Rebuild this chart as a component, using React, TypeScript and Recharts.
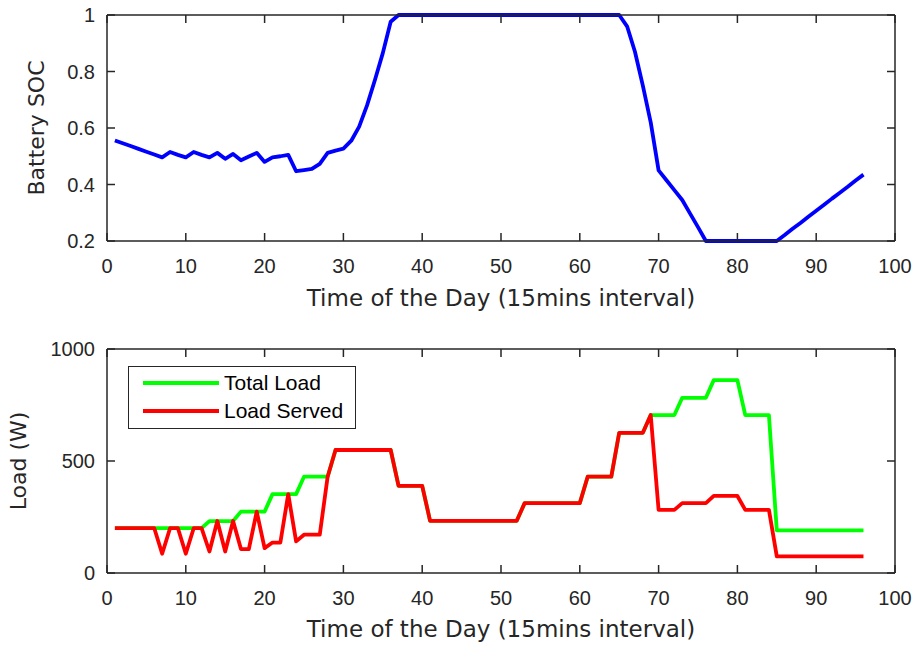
import { LineChart, Line, XAxis, YAxis, Legend } from 'recharts'

// 15-min time slots of the day
const slots = [
  1, 2, 3, 4, 5, 6, 7, 8, 9, 10, 11, 12, 13, 14, 15, 16, 17, 18, 19, 20, 21, 22, 23, 24,
  25, 26, 27, 28, 29, 30, 31, 32, 33, 34, 35, 36, 37, 38, 39, 40, 41, 42, 43, 44, 45, 46, 47, 48,
  49, 50, 51, 52, 53, 54, 55, 56, 57, 58, 59, 60, 61, 62, 63, 64, 65, 66, 67, 68, 69, 70, 71, 72,
  73, 74, 75, 76, 77, 78, 79, 80, 81, 82, 83, 84, 85, 86, 87, 88, 89, 90, 91, 92, 93, 94, 95, 96,
]

const batterySoc = [
  0.556, 0.546, 0.536, 0.526, 0.516, 0.506, 0.496, 0.515, 0.505, 0.496,
  0.515, 0.505, 0.496, 0.512, 0.491, 0.508, 0.486, 0.499, 0.512, 0.48,
  0.496, 0.5, 0.505, 0.447, 0.451, 0.455, 0.473, 0.512, 0.52, 0.527,
  0.555, 0.605, 0.68, 0.77, 0.865, 0.976, 1, 1, 1, 1,
  1, 1, 1, 1, 1, 1, 1, 1, 1, 1,
  1, 1, 1, 1, 1, 1, 1, 1, 1, 1,
  1, 1, 1, 1, 1, 0.96, 0.87, 0.75, 0.62, 0.45,
  0.415, 0.38, 0.345, 0.297, 0.249, 0.2, 0.2, 0.2, 0.2, 0.2,
  0.2, 0.2, 0.2, 0.2, 0.2, 0.221, 0.243, 0.264, 0.286, 0.307,
  0.328, 0.35, 0.371, 0.392, 0.414, 0.435,
]

const totalLoad = [
  200, 200, 200, 200, 200, 200, 200, 200, 200, 200, 200, 200,
  232, 232, 232, 232, 274, 274, 274, 274, 352, 352, 352, 352,
  430, 430, 430, 430, 549, 549, 549, 549, 549, 549, 549, 549,
  389, 389, 389, 389, 233, 233, 233, 233, 233, 233, 233, 233, 233, 233, 233, 233,
  312, 312, 312, 312, 312, 312, 312, 312, 430, 430, 430, 430,
  626, 626, 626, 626, 705, 705, 705, 705, 782, 782, 782, 782,
  861, 861, 861, 861, 705, 705, 705, 705,
  190, 190, 190, 190, 190, 190, 190, 190, 190, 190, 190, 190,
]

const loadServed = [
  200, 200, 200, 200, 200, 200, 86, 200, 200, 86, 200, 200,
  96, 232, 96, 232, 107, 107, 274, 111, 136, 136, 352, 141,
  171, 171, 171, 430, 549, 549, 549, 549, 549, 549, 549, 549,
  389, 389, 389, 389, 233, 233, 233, 233, 233, 233, 233, 233, 233, 233, 233, 233,
  312, 312, 312, 312, 312, 312, 312, 312, 430, 430, 430, 430,
  626, 626, 626, 626, 705, 282, 282, 282, 312, 312, 312, 312,
  344, 344, 344, 344, 282, 282, 282, 282,
  74, 74, 74, 74, 74, 74, 74, 74, 74, 74, 74, 74,
]

const timeTicks = [0, 10, 20, 30, 40, 50, 60, 70, 80, 90, 100]
const socTicks = [0.2, 0.4, 0.6, 0.8, 1]
const loadTicks = [0, 500, 1000]

const socData = slots.map((t, i) => ({ t, soc: batterySoc[i] }))
const loadData = slots.map((t, i) => ({ t, total: totalLoad[i], served: loadServed[i] }))

const AXIS = '#262626'
const tickStyle = { fill: AXIS, fontSize: 20, fontFamily: '"Liberation Sans", Arial, sans-serif' }
const labelStyle = { fill: AXIS, fontSize: 22, fontFamily: '"DejaVu Sans", sans-serif' }
const xLabelStyle = { ...labelStyle, fontSize: 23 }
const blank = () => ''

const LoadLegend = () => (
  <div
    style={{
      boxSizing: 'border-box',
      width: 228,
      height: 63,
      border: `1px solid ${AXIS}`,
      background: '#fff',
      paddingTop: 2,
      fontFamily: '"Liberation Sans", Arial, sans-serif',
      fontSize: 21,
      color: '#000',
    }}
  >
    {[
      { name: 'Total Load', color: '#00ff00' },
      { name: 'Load Served', color: '#ff0000' },
    ].map((item) => (
      <div key={item.name} style={{ display: 'flex', alignItems: 'center', height: 28 }}>
        <div style={{ width: 76, height: 4, background: item.color, marginLeft: 14, marginRight: 5 }} />
        <span style={{ lineHeight: '28px' }}>{item.name}</span>
      </div>
    ))}
  </div>
)

export default function App() {
  return (
    <div style={{ position: 'absolute', left: 0, top: 0, width: 917, height: 646, background: '#fff' }}>
      <LineChart width={917} height={320} data={socData} margin={{ top: 14, right: 21, bottom: 0, left: 0 }}>
        <XAxis
          dataKey="t"
          type="number"
          domain={[0, 100]}
          ticks={timeTicks}
          height={79}
          stroke={AXIS}
          strokeWidth={1.5}
          tickSize={-8}
          tickMargin={26}
          tick={tickStyle}
          label={{ value: 'Time of the Day (15mins interval)', position: 'insideBottom', offset: 14, style: xLabelStyle }}
        />
        <XAxis xAxisId="top" orientation="top" dataKey="t" type="number" domain={[0, 100]} allowDataOverflow ticks={timeTicks} height={1} stroke={AXIS} strokeWidth={1.5} tickSize={-8} tickFormatter={blank} />
        <YAxis
          type="number"
          domain={[0.2, 1]}
          ticks={socTicks}
          width={107}
          stroke={AXIS}
          strokeWidth={1.5}
          tickSize={-8}
          tickMargin={20}
          tick={tickStyle}
          label={{ value: 'Battery SOC', angle: -90, position: 'insideLeft', offset: 36, style: { ...labelStyle, textAnchor: 'middle' } }}
        />
        <YAxis yAxisId="right" orientation="right" type="number" domain={[0.2, 1]} allowDataOverflow ticks={socTicks} width={1} stroke={AXIS} strokeWidth={1.5} tickSize={-8} tickFormatter={blank} />
        <Line type="linear" dataKey="soc" stroke="#0000ff" strokeWidth={3.8} strokeLinejoin="round" dot={false} isAnimationActive={false} />
      </LineChart>
      <LineChart width={917} height={326} data={loadData} margin={{ top: 28, right: 21, bottom: 0, left: 0 }}>
        <XAxis
          dataKey="t"
          type="number"
          domain={[0, 100]}
          ticks={timeTicks}
          height={73}
          stroke={AXIS}
          strokeWidth={1.5}
          tickSize={-8}
          tickMargin={26}
          tick={tickStyle}
          label={{ value: 'Time of the Day (15mins interval)', position: 'insideBottom', offset: 9, style: xLabelStyle }}
        />
        <XAxis xAxisId="top" orientation="top" dataKey="t" type="number" domain={[0, 100]} allowDataOverflow ticks={timeTicks} height={1} stroke={AXIS} strokeWidth={1.5} tickSize={-8} tickFormatter={blank} />
        <YAxis
          type="number"
          domain={[0, 1000]}
          ticks={loadTicks}
          width={107}
          stroke={AXIS}
          strokeWidth={1.5}
          tickSize={-8}
          tickMargin={20}
          tick={tickStyle}
          label={{ value: 'Load (W)', angle: -90, position: 'insideLeft', offset: 18, style: { ...labelStyle, textAnchor: 'middle' } }}
        />
        <YAxis yAxisId="right" orientation="right" type="number" domain={[0, 1000]} allowDataOverflow ticks={loadTicks} width={1} stroke={AXIS} strokeWidth={1.5} tickSize={-8} tickFormatter={blank} />
        <Legend
          layout="vertical"
          align="center"
          verticalAlign="middle"
          content={<LoadLegend />}
          wrapperStyle={{ left: 128, top: 46, width: 228, height: 63 }}
        />
        <Line type="linear" dataKey="total" name="Total Load" stroke="#00ff00" strokeWidth={3.8} strokeLinejoin="round" dot={false} isAnimationActive={false} />
        <Line type="linear" dataKey="served" name="Load Served" stroke="#ff0000" strokeWidth={3.8} strokeLinejoin="round" dot={false} isAnimationActive={false} />
      </LineChart>
    </div>
  )
}
